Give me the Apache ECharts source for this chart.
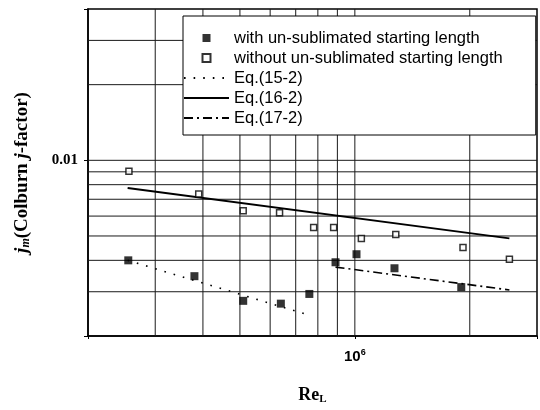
<!DOCTYPE html>
<html><head><meta charset="utf-8">
<script src="https://cdn.jsdelivr.net/npm/echarts@6/dist/echarts.min.js"></script>
<style>html,body{margin:0;padding:0;background:#fff}#c{width:540px;height:410px}</style>
</head><body><div id="c"></div>
<script>
// Data
const reFilled = [2.55e5, 3.8e5, 5.1e5, 6.4e5, 7.6e5, 8.9e5, 1.01e6, 1.27e6, 1.9e6];
const jFilled  = [0.0040, 0.00346, 0.00276, 0.00269, 0.00294, 0.00393, 0.00423, 0.00372, 0.00313];
const reOpen   = [2.56e5, 3.9e5, 5.1e5, 6.35e5, 7.8e5, 8.8e5, 1.04e6, 1.28e6, 1.92e6, 2.54e6];
const jOpen    = [0.00905, 0.00735, 0.0063, 0.00619, 0.0054, 0.0054, 0.00489, 0.00507, 0.0045, 0.00404];
const eq15Re = [2.54e5, 7.4e5];  const eq15J = [0.0040, 0.00245];
const eq16Re = [2.54e5, 2.54e6]; const eq16J = [0.00776, 0.00489];
const eq17Re = [8.9e5, 2.54e6];  const eq17J = [0.00376, 0.00305];
const xRange = [2e5, 3e6];
const yRange = [0.002, 0.04];
const xGridTicks = [3e5, 4e5, 5e5, 6e5, 7e5, 8e5, 9e5, 1e6, 2e6];
const yGridTicks = [0.003, 0.004, 0.005, 0.006, 0.007, 0.008, 0.009, 0.01, 0.02, 0.03];
const names = ['with un-sublimated starting length', 'without un-sublimated starting length', 'Eq.(15-2)', 'Eq.(16-2)', 'Eq.(17-2)'];

const zip = (a, b) => a.map((v, i) => [v, b[i]]);
const chart = echarts.init(document.getElementById('c'), null, {renderer: 'canvas'});
const gridStyle = {stroke: '#1a1a1a', lineWidth: 1};
const hidden = {color: 'rgba(0,0,0,0)', borderColor: 'rgba(0,0,0,0)', borderWidth: 0, opacity: 0};
const sq = 'path://M0,0L10,0L10,10L0,10Z';
chart.setOption({
  animation: false,
  backgroundColor: '#fff',
  grid: {left: 88, top: 9, width: 451, height: 332, show: true, borderColor: '#000', borderWidth: 1.5, backgroundColor: 'transparent'},
  legend: {
    orient: 'vertical', left: 183, top: 16, z: 20,
    padding: [12, 33, 7, 0], itemGap: 0, itemWidth: 45, itemHeight: 8,
    backgroundColor: '#fff', borderColor: '#000', borderWidth: 1,
    textStyle: {fontFamily: 'Liberation Sans', fontSize: 16.5, color: '#000', lineHeight: 20},
    data: [
      {name: names[0], icon: sq},
      {name: names[1], icon: sq},
      {name: names[2], itemStyle: hidden},
      {name: names[3], itemStyle: hidden},
      {name: names[4], itemStyle: hidden}
    ]
  },
  xAxis: {
    type: 'log', logBase: 10, min: xRange[0], max: xRange[1],
    axisLine: {lineStyle: {color: '#000', width: 1.5}},
    axisTick: {show: true, length: 3, lineStyle: {color: '#000'}},
    splitLine: {show: false},
    axisLabel: {
      margin: 12,
      formatter: v => Math.abs(Math.log10(v) - 6) < 0.01 ? '{a|10}{b|6}' : '',
      rich: {a: {fontFamily: 'Liberation Sans', fontWeight: 'bold', fontSize: 15, color: '#000'},
             b: {fontFamily: 'Liberation Sans', fontWeight: 'bold', fontSize: 9, color: '#000', padding: [0, 0, 9, 0]}}
    },
    name: '{r|Re}{s|L}', nameLocation: 'middle', nameGap: 50,
    nameTextStyle: {rich: {r: {fontFamily: 'Liberation Serif', fontWeight: 'bold', fontSize: 18, color: '#000'},
                           s: {fontFamily: 'Liberation Serif', fontWeight: 'bold', fontSize: 11, color: '#000', padding: [8, 0, 0, 0]}}}
  },
  yAxis: {
    type: 'log', logBase: 10, min: yRange[0], max: yRange[1],
    axisLine: {lineStyle: {color: '#000', width: 1.5}},
    axisTick: {show: true, length: 4, lineStyle: {color: '#000'}},
    splitLine: {show: false},
    axisLabel: {
      margin: 10,
      formatter: v => Math.abs(Math.log10(v) + 2) < 0.01 ? '0.01' : '',
      fontFamily: 'Liberation Serif', fontWeight: 'bold', fontSize: 15, color: '#000'
    },
    name: '{i|j}{m|m}{n|(Colburn }{i|j}{n|-factor)}', nameLocation: 'middle', nameGap: 56, nameRotate: 90,
    nameTextStyle: {rich: {
      i: {fontFamily: 'Liberation Serif', fontWeight: 'bold', fontStyle: 'italic', fontSize: 19, color: '#000'},
      m: {fontFamily: 'Liberation Serif', fontWeight: 'bold', fontStyle: 'italic', fontSize: 12, color: '#000', padding: [8, 0, 0, 0]},
      n: {fontFamily: 'Liberation Serif', fontWeight: 'bold', fontSize: 19, color: '#000'}}}
  },
  series: [
    {
      type: 'custom', name: 'xgrid', silent: true, z: 1, clip: false,
      data: xGridTicks.map(v => [v, yRange[0]]),
      renderItem: (params, api) => {
        const a = api.coord([api.value(0), yRange[0]]);
        const b = api.coord([api.value(0), yRange[1]]);
        return {type: 'line', shape: {x1: a[0], y1: a[1], x2: b[0], y2: b[1]}, style: gridStyle};
      }
    },
    {
      type: 'custom', name: 'ygrid', silent: true, z: 1, clip: false,
      data: yGridTicks.map(v => [xRange[0], v]),
      renderItem: (params, api) => {
        const a = api.coord([xRange[0], api.value(1)]);
        const b = api.coord([xRange[1], api.value(1)]);
        return {type: 'line', shape: {x1: a[0], y1: a[1], x2: b[0], y2: b[1]}, style: gridStyle};
      }
    },
    {type: 'scatter', name: names[0], data: zip(reFilled, jFilled), symbol: 'rect', symbolSize: 8, z: 5,
     itemStyle: {color: '#000', borderColor: '#000', borderWidth: 0}},
    {type: 'scatter', name: names[1], data: zip(reOpen, jOpen), symbol: 'rect', symbolSize: 6, z: 5,
     itemStyle: {color: '#fff', borderColor: '#000', borderWidth: 1.5}},
    {type: 'line', name: names[2], data: zip(eq15Re, eq15J), symbol: 'none', z: 4,
     lineStyle: {color: '#000', width: 1.6, type: [1.6, 8]}, itemStyle: {color: '#000'}},
    {type: 'line', name: names[3], data: zip(eq16Re, eq16J), symbol: 'none', z: 4,
     lineStyle: {color: '#000', width: 1.8, type: 'solid'}, itemStyle: {color: '#000'}},
    {type: 'line', name: names[4], data: zip(eq17Re, eq17J), symbol: 'none', z: 4,
     lineStyle: {color: '#000', width: 1.6, type: [9, 4, 2, 4]}, itemStyle: {color: '#000'}}
  ]
});
</script></body></html>
